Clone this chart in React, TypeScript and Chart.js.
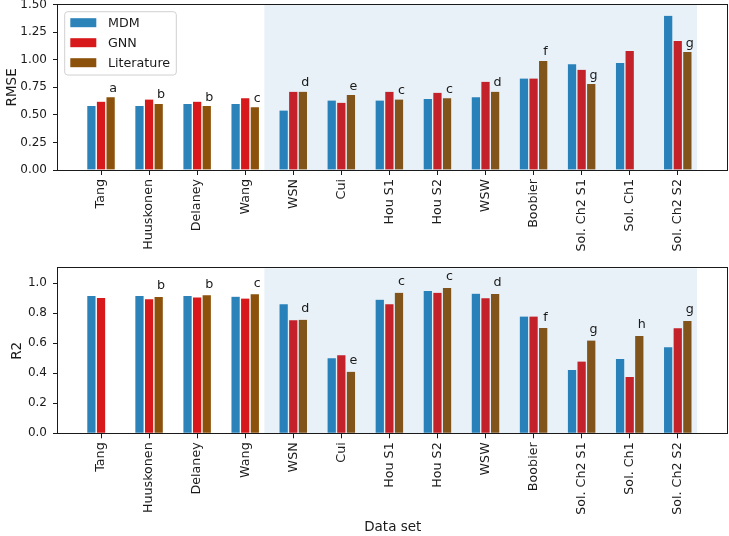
import React, { useEffect, useRef } from 'react';
import { Chart, registerables } from 'chart.js';

Chart.register(...registerables);

const categories = ['Tang', 'Huuskonen', 'Delaney', 'Wang', 'WSN', 'Cui', 'Hou S1', 'Hou S2', 'WSW', 'Boobier', 'Sol. Ch2 S1', 'Sol. Ch1', 'Sol. Ch2 S2'];
const seriesNames = ['MDM', 'GNN', 'Literature'];

const rmseMDM = [0.58, 0.58, 0.60, 0.60, 0.54, 0.63, 0.63, 0.645, 0.66, 0.83, 0.96, 0.97, 1.40];
const rmseGNN = [0.62, 0.64, 0.62, 0.65, 0.71, 0.61, 0.71, 0.70, 0.80, 0.83, 0.91, 1.08, 1.17];
const rmseLit = [0.66, 0.60, 0.58, 0.57, 0.71, 0.68, 0.64, 0.65, 0.71, 0.99, 0.78, null, 1.07];
const rmseLetters = ['a', 'b', 'b', 'c', 'd', 'e', 'c', 'c', 'd', 'f', 'g', '', 'g'];

const r2MDM = [0.915, 0.915, 0.915, 0.911, 0.86, 0.50, 0.891, 0.949, 0.931, 0.778, 0.422, 0.495, 0.573];
const r2GNN = [0.902, 0.893, 0.906, 0.898, 0.753, 0.52, 0.86, 0.937, 0.90, 0.778, 0.478, 0.375, 0.70];
const r2Lit = [null, 0.909, 0.92, 0.927, 0.757, 0.41, 0.937, 0.969, 0.929, 0.702, 0.618, 0.649, 0.749];
const r2Letters = ['', 'b', 'b', 'c', 'd', 'e', 'c', 'c', 'd', 'f', 'g', 'h', 'g'];

const rmseTicks = [0, 0.25, 0.5, 0.75, 1.0, 1.25, 1.5];
const r2Ticks = [0, 0.2, 0.4, 0.6, 0.8, 1.0];

const shadedFrom = 3.4;
const shadedTo = 12.4;

const FONT = "'DejaVu Sans', 'Liberation Sans', sans-serif";
const COLORS = ['#2b83ba', '#d7191c', '#8c510a'];
const INK = '#1a1a1a';

type Spec = {
  id: string;
  series: (number | null)[][];
  letters: string[];
  yMax: number;
  yTicks: number[];
  decimals: number;
  yTitle: string;
  yTitlePad: number;
  xTitle: string | null;
  padTop: number;
  xAxisHeight: number;
  legend: boolean;
};

function drawLegend(ctx: CanvasRenderingContext2D) {
  const x = 64.7, y = 11.7, w = 111.6, h = 63.3, r = 3;
  ctx.save();
  ctx.beginPath();
  ctx.moveTo(x + r, y);
  ctx.lineTo(x + w - r, y);
  ctx.quadraticCurveTo(x + w, y, x + w, y + r);
  ctx.lineTo(x + w, y + h - r);
  ctx.quadraticCurveTo(x + w, y + h, x + w - r, y + h);
  ctx.lineTo(x + r, y + h);
  ctx.quadraticCurveTo(x, y + h, x, y + h - r);
  ctx.lineTo(x, y + r);
  ctx.quadraticCurveTo(x, y, x + r, y);
  ctx.closePath();
  ctx.fillStyle = 'rgba(255,255,255,0.8)';
  ctx.fill();
  ctx.strokeStyle = '#d0d0d0';
  ctx.lineWidth = 1;
  ctx.stroke();
  seriesNames.forEach((name, k) => {
    const cy = 22.7 + k * 20;
    ctx.fillStyle = COLORS[k];
    ctx.fillRect(70.3, cy - 4.5, 26, 9);
    ctx.fillStyle = INK;
    ctx.font = `12.7px ${FONT}`;
    ctx.textAlign = 'left';
    ctx.textBaseline = 'middle';
    ctx.fillText(name, 108, cy + 0.5);
  });
  ctx.restore();
}

function buildChart(canvas: HTMLCanvasElement, spec: Spec) {
  const datasets = spec.series.map((vals, k) => ({
    label: seriesNames[k],
    data: vals.map((v, i) => ({ x: i, y: v })),
    backgroundColor: COLORS[k],
    borderColor: '#ffffff',
    borderWidth: { top: 0, right: 1, bottom: 0, left: 1 },
    borderSkipped: false,
    barThickness: 9.6,
  }));
  const lit = spec.series[2];
  const overlay = {
    id: 'overlay' + spec.id,
    afterDatasetsDraw(chart: any) {
      const { ctx, chartArea: ca } = chart;
      const xs = chart.scales.x;
      const ys = chart.scales.y;
      ctx.save();
      const x0 = xs.getPixelForValue(shadedFrom);
      const x1 = xs.getPixelForValue(shadedTo);
      ctx.fillStyle = 'rgba(31,119,180,0.1)';
      ctx.fillRect(x0, ca.top, x1 - x0, ca.bottom - ca.top);
      ctx.fillStyle = INK;
      ctx.font = `12.7px ${FONT}`;
      ctx.textAlign = 'center';
      ctx.textBaseline = 'alphabetic';
      spec.letters.forEach((l, i) => {
        const v = lit[i];
        if (!l || v == null) return;
        ctx.fillText(l, xs.getPixelForValue(i + 0.25), ys.getPixelForValue(v + 0.05));
      });
      ctx.strokeStyle = INK;
      ctx.lineWidth = 1;
      const L = Math.round(ca.left) - 0.5;
      const R = Math.round(ca.right) - 0.5;
      const T = Math.round(ca.top) - 0.5;
      const B = Math.round(ca.bottom) + 0.5;
      ctx.strokeRect(L, T, R - L, B - T);
      ctx.restore();
    },
    afterDraw(chart: any) {
      if (spec.legend) drawLegend(chart.ctx);
    },
  };
  const gridOpts = {
    display: true,
    offset: false,
    drawOnChartArea: false,
    drawTicks: true,
    tickLength: 5,
    tickColor: INK,
    tickWidth: 1,
  };
  return new Chart(canvas, {
    type: 'bar',
    data: { datasets: datasets as any },
    plugins: [overlay],
    options: {
      responsive: false,
      animation: false,
      events: [],
      layout: { padding: { top: spec.padTop, right: 1.5, left: 0, bottom: 0 } },
      plugins: { legend: { display: false }, tooltip: { enabled: false } },
      scales: {
        x: {
          type: 'linear',
          offset: false,
          min: -0.895,
          max: 13.035,
          afterBuildTicks: (s: any) => {
            s.ticks = categories.map((_, i) => ({ value: i }));
          },
          afterFit: (s: any) => {
            s.height = spec.xAxisHeight;
            s.paddingLeft = 0;
            s.paddingRight = 0;
          },
          grid: gridOpts,
          border: { display: false },
          ticks: {
            autoSkip: false,
            minRotation: 90,
            maxRotation: 90,
            padding: 4,
            color: INK,
            font: { family: FONT, size: 12.7 },
            callback: (v: any) => categories[Math.round(v)] ?? '',
          },
          title: spec.xTitle
            ? {
                display: true,
                text: spec.xTitle,
                color: INK,
                font: { family: FONT, size: 13.5 },
                padding: { top: 0, bottom: 0.9 },
              }
            : { display: false },
        },
        y: {
          min: 0,
          max: spec.yMax,
          afterBuildTicks: (s: any) => {
            s.ticks = spec.yTicks.map((v) => ({ value: v }));
          },
          afterFit: (s: any) => {
            s.width = 58;
            s.paddingTop = 0;
            s.paddingBottom = 0;
          },
          grid: gridOpts,
          border: { display: false },
          ticks: {
            padding: 6,
            color: INK,
            font: { family: FONT, size: 12 },
            callback: (v: any) => Number(v).toFixed(spec.decimals),
          },
          title: {
            display: true,
            text: spec.yTitle,
            color: INK,
            font: { family: FONT, size: 13.5 },
            padding: { top: spec.yTitlePad, bottom: 0 },
          },
        },
      },
    } as any,
  });
}

export default function App() {
  const topRef = useRef<HTMLCanvasElement>(null);
  const botRef = useRef<HTMLCanvasElement>(null);

  useEffect(() => {
    document.body.style.margin = '0';
    const top = buildChart(topRef.current!, {
      id: 'rmse',
      series: [rmseMDM, rmseGNN, rmseLit],
      letters: rmseLetters,
      yMax: 1.5,
      yTicks: rmseTicks,
      decimals: 2,
      yTitle: 'RMSE',
      yTitlePad: 4.2,
      xTitle: null,
      padTop: 4.7,
      xAxisHeight: 88,
      legend: true,
    });
    const bot = buildChart(botRef.current!, {
      id: 'r2',
      series: [r2MDM, r2GNN, r2Lit],
      letters: r2Letters,
      yMax: 1.1,
      yTicks: r2Ticks,
      decimals: 1,
      yTitle: 'R2',
      yTitlePad: 8.9,
      xTitle: 'Data set',
      padTop: 10.3,
      xAxisHeight: 102.7,
      legend: false,
    });
    return () => {
      top.destroy();
      bot.destroy();
    };
  }, []);

  return (
    <div style={{ position: 'relative', width: 729, height: 536, background: '#fff' }}>
      <canvas ref={topRef} width={729} height={258} style={{ position: 'absolute', left: 0, top: 0, width: 729, height: 258 }} />
      <canvas ref={botRef} width={729} height={278} style={{ position: 'absolute', left: 0, top: 258, width: 729, height: 278 }} />
    </div>
  );
}
